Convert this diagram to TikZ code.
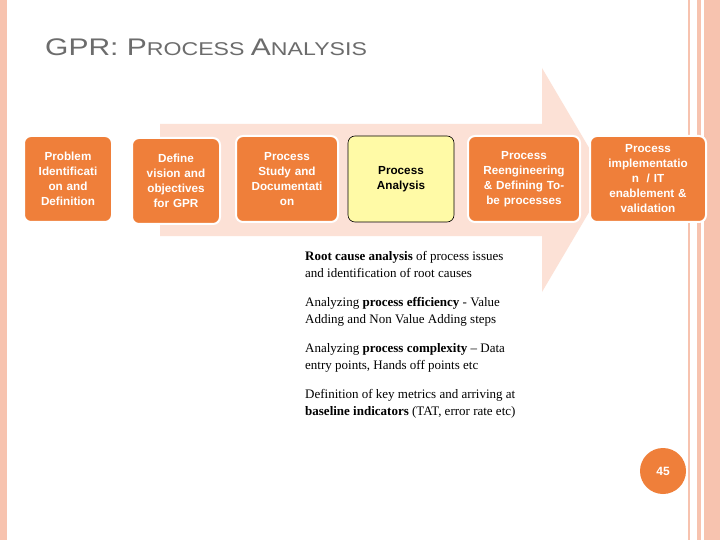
\documentclass[tikz,border=0pt]{standalone}
\usepackage{fontspec}
\usepackage{graphicx}
\setmainfont{Liberation Serif}
\newfontfamily\sans{Liberation Sans}
\begin{document}
\begin{tikzpicture}[x=1pt,y=-1pt,
  box/.style={draw=white,line width=2pt,rounded corners=7pt,fill=orangeA,text=white,font=\sans\bfseries\fontsize{11.7}{15}\selectfont,align=center,inner sep=1pt},
  para/.style={anchor=north west,align=left,font=\fontsize{13}{17}\selectfont,inner sep=0pt}]
\definecolor{orangeA}{HTML}{EF7F3A}
\definecolor{pinkA}{HTML}{FCE1D6}
\definecolor{edgeA}{HTML}{F7C3AF}
\useasboundingbox (0,0) rectangle (720,540);
\fill[white] (0,0) rectangle (720,540);
\fill[edgeA] (0,0) rectangle (7,540);
\draw[edgeA,line width=1.5pt] (689,0) -- (689,540);
\fill[edgeA] (697,0) rectangle (701,540);
\fill[edgeA] (704,0) rectangle (720,540);
\node[anchor=west,text=gray!85!black,font=\sans,inner sep=0pt] (t) at (45,47) {\scalebox{1.25}[1]{\fontsize{24}{26}\selectfont GPR: P\fontsize{18.5}{20}\selectfont ROCESS \fontsize{24}{26}\selectfont A\fontsize{18.5}{20}\selectfont NALYSIS}};
\fill[pinkA] (160,124) -- (542,124) -- (542,68) -- (608,180) -- (542,292) -- (542,236) -- (160,236) -- cycle;
\node[box,minimum width=88pt,minimum height=86pt,text width=84pt] (b1) at (68,179) {Problem\\Identificati\\on and\\Definition};
\node[box,minimum width=88pt,minimum height=86pt,text width=84pt] (b2) at (176,181) {Define\\vision and\\objectives\\for GPR};
\node[box,minimum width=102pt,minimum height=86pt,text width=98pt] (b3) at (287,179) {Process\\Study and\\Documentati\\on};
\node[box,draw=black,line width=0.6pt,fill=yellow!35,text=black,minimum width=106pt,minimum height=86pt,text width=102pt] (b4) at (401,179) {Process\\Analysis};
\node[box,minimum width=112pt,minimum height=86pt,text width=108pt] (b5) at (524,179) {Process\\Reengineering\\\& Defining To-\\be processes};
\node[box,minimum width=116pt,minimum height=86pt,text width=112pt] (b6) at (648,179) {Process\\implementatio\\n~~/ IT\\enablement \&\\validation};
\node[para] (p1) at (305,251) {\textbf{Root cause analysis} of process issues\\and identification of root causes};
\node[para] (p2) at (305,297) {Analyzing \textbf{process efficiency} - Value\\Adding and Non Value Adding steps};
\node[para] (p3) at (305,343) {Analyzing \textbf{process complexity} -- Data\\entry points, Hands off points etc};
\node[para] (p4) at (305,389) {Definition of key metrics and arriving at\\\textbf{baseline indicators} (TAT, error rate etc)};
\node[circle,fill=orangeA,minimum size=46pt,text=white,font=\sans\bfseries\fontsize{12}{14}\selectfont] (n) at (663,471) {45};
\end{tikzpicture}
\end{document}
